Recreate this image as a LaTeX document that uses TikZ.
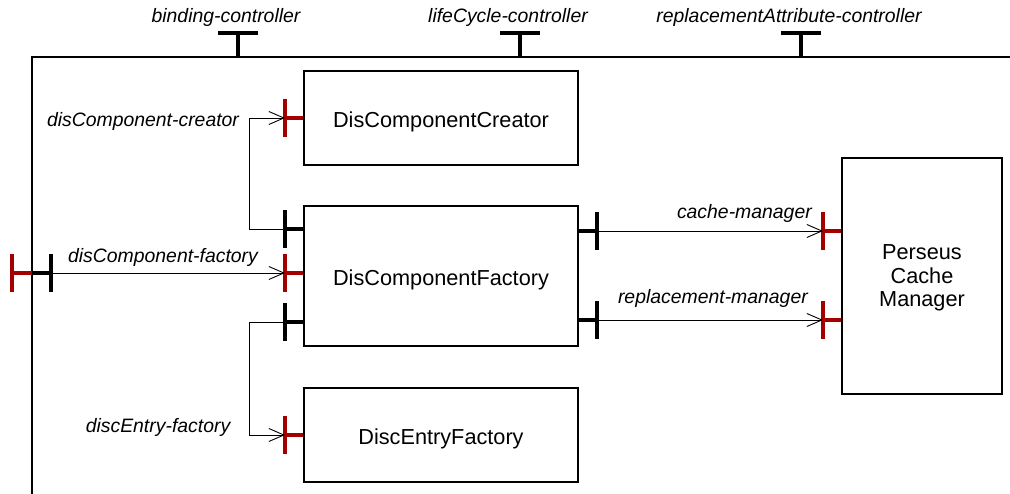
\documentclass[tikz,border=0pt]{standalone}
\usepackage{fontspec}
\setmainfont{Liberation Sans}
\usepackage{tikz}
\usetikzlibrary{arrows.meta}
\definecolor{srvred}{RGB}{165,0,0}

\begin{document}
\begin{tikzpicture}[
  x=1pt, y=-1pt,
  comp/.style={draw, line width=2pt, align=center, inner sep=0pt, text depth=0pt,
    font=\fontsize{21.7}{23.5}\selectfont},
  onel/.style={comp, text height=19pt},
  lbl/.style={font=\fontsize{19.4}{22}\selectfont\itshape, inner sep=0pt},
  itf/.style={line width=3.6pt},
  srv/.style={itf, draw=srvred},
  wire/.style={line width=0.9pt, -{Straight Barb[length=15pt,width=13pt]}}
]
\useasboundingbox (0,0) rectangle (1010,494);

% composite border
\draw[line width=2pt] (1010,57) -- (32,57) -- (32,494);

% control interfaces
\foreach \x/\n/\t in {238/bc/binding-controller, 520/lc/lifeCycle-controller,
    801/rc/replacementAttribute-controller}{
  \coordinate (\n) at (\x,57);
  \coordinate (\n-t) at (\x,33);
  \draw[itf] (\n) -- (\n-t);
  \draw[itf] (\n-t) ++(-20,0) -- ++(40,0);
  \node[lbl] (\n-lbl) at (\x-12,17) {\t};
}

% components
\node[onel, minimum width=274pt, minimum height=94pt] (creator) at (441,118) {DisComponentCreator};
\node[onel, minimum width=274pt, minimum height=140pt] (factory) at (441,276) {DisComponentFactory};
\node[onel, minimum width=274pt, minimum height=94pt] (entry) at (441,435) {DiscEntryFactory};
\node[comp, text depth=-2pt, minimum width=160pt, minimum height=236pt] (pcm) at (922,276) {Perseus\\Cache\\Manager};

% server interfaces
\coordinate (cr-s) at (285,118);
\coordinate (fa-s) at (285,273);
\coordinate (en-s) at (285,435);
\coordinate (pm-s1) at (823,231);
\coordinate (pm-s2) at (823,320);
\coordinate (cp-s) at (12,273);
\draw[srv] (creator.west) -- (cr-s) ++(0,-19) -- ++(0,38);
\draw[srv] (factory.west |- fa-s) -- (fa-s) ++(0,-19) -- ++(0,38);
\draw[srv] (entry.west) -- (en-s) ++(0,-19) -- ++(0,38);
\draw[srv] (pcm.west |- pm-s1) -- (pm-s1) ++(0,-19) -- ++(0,38);
\draw[srv] (pcm.west |- pm-s2) -- (pm-s2) ++(0,-19) -- ++(0,38);
\draw[srv] (32,273) -- (cp-s) ++(0,-19) -- ++(0,38);

% client interfaces
\coordinate (fa-c1) at (285,229);
\coordinate (fa-c2) at (285,322);
\coordinate (fa-c3) at (597,231);
\coordinate (fa-c4) at (597,320);
\coordinate (cp-c) at (51,273);
\draw[itf] (factory.west |- fa-c1) -- (fa-c1) ++(0,-19) -- ++(0,38);
\draw[itf] (factory.west |- fa-c2) -- (fa-c2) ++(0,-19) -- ++(0,38);
\draw[itf] (factory.east |- fa-c3) -- (fa-c3) ++(0,-19) -- ++(0,38);
\draw[itf] (factory.east |- fa-c4) -- (fa-c4) ++(0,-19) -- ++(0,38);
\draw[itf] (32,273) -- (cp-c) ++(0,-19) -- ++(0,38);

% bindings
\draw[wire] (fa-c1) -- ++(-36,0) |- (cr-s);
\draw[wire] (fa-c2) -- ++(-36,0) |- (en-s);
\draw[wire] (cp-c) -- (fa-s);
\draw[wire] (fa-c3) -- (pm-s1);
\draw[wire] (fa-c4) -- (pm-s2);

% labels
\node[lbl] (cr-lbl) at (143,121) {disComponent-creator};
\node[lbl] (fa-lbl) at (163,257) {disComponent-factory};
\node[lbl] (en-lbl) at (158,427) {discEntry-factory};
\node[lbl, anchor=east] (cm-lbl) at (812,213) {cache-manager};
\node[lbl, anchor=east] (rm-lbl) at (808,298) {replacement-manager};
\end{tikzpicture}
\end{document}
